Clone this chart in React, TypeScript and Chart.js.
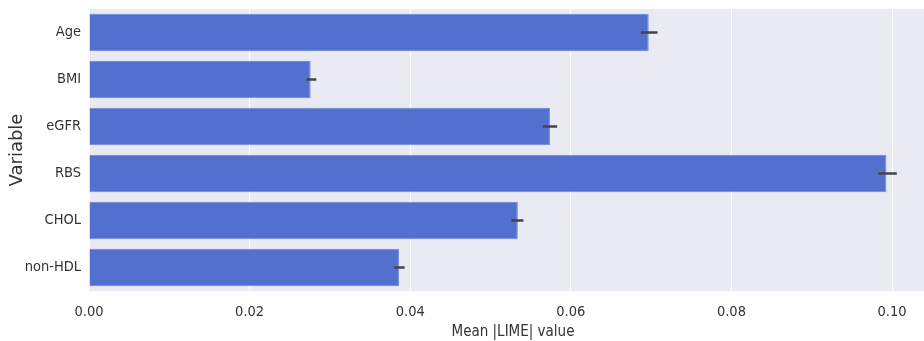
import React, { useEffect, useRef } from "react";
import { Chart, registerables } from "chart.js";

Chart.register(...registerables);

const categories = ["Age", "BMI", "eGFR", "RBS", "CHOL", "non-HDL"];
const meanValues = [0.0697, 0.0276, 0.0574, 0.0993, 0.0534, 0.0386];
const errLow = [0.0687, 0.0271, 0.0565, 0.0983, 0.0526, 0.0380];
const errHigh = [0.0708, 0.0283, 0.0583, 0.1006, 0.0541, 0.0393];
const xTicks = [0, 0.02, 0.04, 0.06, 0.08, 0.1];

const errorBarPlugin = {
  id: "errorBars",
  afterDatasetsDraw(chart: any) {
    const { ctx, scales } = chart;
    const meta = chart.getDatasetMeta(0);
    ctx.save();
    ctx.strokeStyle = "#444444";
    ctx.lineWidth = 2.5;
    meta.data.forEach((el: any, i: number) => {
      const x1 = scales.x.getPixelForValue(errLow[i]);
      const x2 = scales.x.getPixelForValue(errHigh[i]);
      const y = el.y;
      ctx.beginPath();
      ctx.moveTo(x1, y);
      ctx.lineTo(x2, y);
      ctx.stroke();
    });
    ctx.restore();
  },
};

const bgPlugin = {
  id: "plotBg",
  beforeDraw(chart: any) {
    const { ctx, chartArea } = chart;
    ctx.save();
    ctx.fillStyle = "#EAEAF2";
    ctx.fillRect(chartArea.left, chartArea.top, chartArea.right - chartArea.left, chartArea.bottom - chartArea.top);
    ctx.restore();
  },
};

const narrow = "'Liberation Sans Narrow', 'DejaVu Sans Condensed', 'DejaVu Sans'";

export default function App() {
  const ref = useRef<HTMLCanvasElement>(null);
  useEffect(() => {
    document.body.style.margin = "0";
    const chart = new Chart(ref.current as HTMLCanvasElement, {
      type: "bar",
      data: {
        labels: categories,
        datasets: [
          {
            data: meanValues,
            backgroundColor: "#5470CF",
            borderColor: "#6B86DA",
            borderWidth: 1,
            categoryPercentage: 1,
            barPercentage: 0.8,
          },
        ],
      },
      options: {
        indexAxis: "y",
        animation: false,
        responsive: false,
        maintainAspectRatio: false,
        layout: { padding: { top: 9, right: 4, left: 0, bottom: 0 } },
        plugins: { legend: { display: false }, tooltip: { enabled: false } },
        scales: {
          x: {
            type: "linear",
            min: 0,
            max: 0.1056,
            afterFit: (s: any) => { s.height = 50; s.paddingLeft = 0; s.paddingRight = 0; },
            afterBuildTicks: (s: any) => { s.ticks = xTicks.map((v) => ({ value: v })); },
            grid: { color: "#FFFFFF", lineWidth: 1, drawTicks: false },
            border: { display: false },
            ticks: {
              padding: 13,
              color: "#333333",
              font: { family: narrow, size: 14.5 },
              callback: (v: any) => Number(v).toFixed(2),
            },
            title: {
              display: true,
              text: "Mean |LIME| value",
              color: "#333333",
              font: { family: narrow, size: 15 },
              padding: { top: 0, bottom: 0 },
            },
          },
          y: {
            afterFit: (s: any) => { s.width = 89; s.paddingTop = 0; s.paddingBottom = 0; },
            grid: { display: false, drawTicks: false },
            border: { display: false },
            ticks: {
              padding: 8,
              color: "#333333",
              font: { family: narrow, size: 14.5 },
            },
            title: {
              display: true,
              text: "Variable",
              color: "#333333",
              font: { family: "DejaVu Sans", size: 18 },
              padding: { top: 7, bottom: 0 },
            },
          },
        },
      },
      plugins: [bgPlugin, errorBarPlugin],
    });
    return () => chart.destroy();
  }, []);
  return (
    <div style={{ position: "absolute", left: 0, top: 0, width: 924, height: 341, overflow: "hidden", background: "#FFFFFF" }}>
      <canvas ref={ref} width={941} height={341} style={{ width: 941, height: 341 }} />
    </div>
  );
}
